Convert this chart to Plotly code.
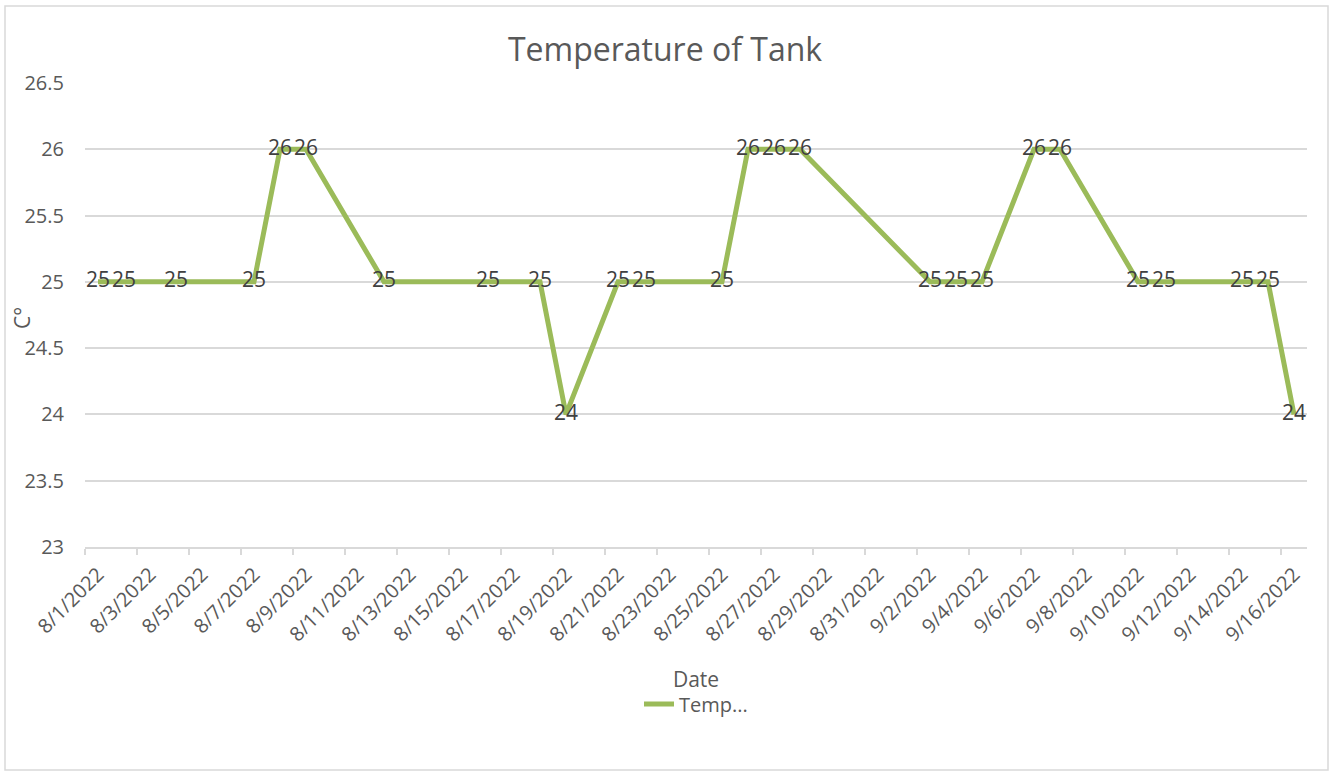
import pandas as pd
import plotly.graph_objects as go

# Tank temperature readings (°C)
dates = ["2022-08-01", "2022-08-02", "2022-08-04", "2022-08-07", "2022-08-08", "2022-08-09",
         "2022-08-12", "2022-08-16", "2022-08-18", "2022-08-19", "2022-08-21", "2022-08-22",
         "2022-08-25", "2022-08-26", "2022-08-27", "2022-08-28", "2022-09-02", "2022-09-03",
         "2022-09-04", "2022-09-06", "2022-09-07", "2022-09-10", "2022-09-11", "2022-09-14",
         "2022-09-15", "2022-09-16"]
temps = [25, 25, 25, 25, 26, 26,
         25, 25, 25, 24, 25, 25,
         25, 26, 26, 26, 25, 25,
         25, 26, 26, 25, 25, 25,
         25, 24]

# Date axis: one slot per day, labels every second day
tick_dates = pd.date_range("2022-08-01", "2022-09-16", freq="2D")
tick_labels = [f"{d.month}/{d.day}/{d.year}" for d in tick_dates]
tick_bounds = [d - pd.Timedelta(hours=12) for d in tick_dates]

FONT = "Open Sans"
GRID = "#d9d9d9"
TXT = "#595959"

fig = go.Figure()
fig.add_trace(go.Scatter(
    x=pd.to_datetime(dates), y=temps,
    mode="lines+text",
    name="Temp...",
    line=dict(color="#9bbb59", width=5),
    text=[str(t) for t in temps],
    textposition="middle center",
    textfont=dict(family=FONT, size=21, color="#404040"),
    cliponaxis=False,
))

x0 = pd.Timestamp("2022-08-01") - pd.Timedelta(hours=12)
x1 = pd.Timestamp("2022-09-16") + pd.Timedelta(hours=12)

PLOT_W, PLOT_H = 1222, 464  # plot area size in px (left 85, top 83)

fig.update_layout(
    width=1330, height=772,
    margin=dict(l=85, r=23, t=83, b=225, autoexpand=False),
    paper_bgcolor="white", plot_bgcolor="white",
    font=dict(family=FONT, color=TXT),
    title=dict(text="Temperature of Tank", x=0.5, xanchor="center",
               y=1 - 50 / 772, yanchor="middle",
               font=dict(family=FONT, size=32, color=TXT)),
    xaxis=dict(
        type="date", range=[x0, x1],
        tickvals=tick_bounds, ticktext=tick_labels,
        ticklabelshift=13, tickangle=-45,
        tickfont=dict(family=FONT, size=20, color=TXT),
        ticks="outside", ticklen=6, tickcolor=GRID, tickwidth=1.5,
        showline=True, linecolor=GRID, linewidth=1.5,
        showgrid=False, zeroline=False,
        title=dict(text="Date", font=dict(family=FONT, size=21, color=TXT), standoff=26),
    ),
    yaxis=dict(
        range=[23, 26.5], dtick=0.5,
        tickfont=dict(family=FONT, size=20, color=TXT),
        showgrid=True, gridcolor=GRID, gridwidth=1.5,
        zeroline=False, showline=False, ticks="", ticklabelstandoff=20,
    ),
    annotations=[dict(text="C°", textangle=-90, showarrow=False,
                      xref="paper", yref="paper",
                      x=(22 - 85) / PLOT_W, y=(547 - 318) / PLOT_H,
                      xanchor="center", yanchor="middle",
                      font=dict(family=FONT, size=21, color=TXT))],
    showlegend=True,
    legend=dict(orientation="h", x=0.5, xanchor="center",
                y=(547 - 704) / PLOT_H, yanchor="middle",
                font=dict(family=FONT, size=20, color=TXT),
                bgcolor="rgba(0,0,0,0)"),
    shapes=[dict(type="rect", xref="paper", yref="paper",
                 x0=(5 - 85) / PLOT_W, x1=(1328 - 85) / PLOT_W,
                 y0=(547 - 770) / PLOT_H, y1=(547 - 6) / PLOT_H,
                 line=dict(color=GRID, width=1.5), fillcolor="rgba(0,0,0,0)",
                 layer="below")],
)

fig.write_html("out.html")
